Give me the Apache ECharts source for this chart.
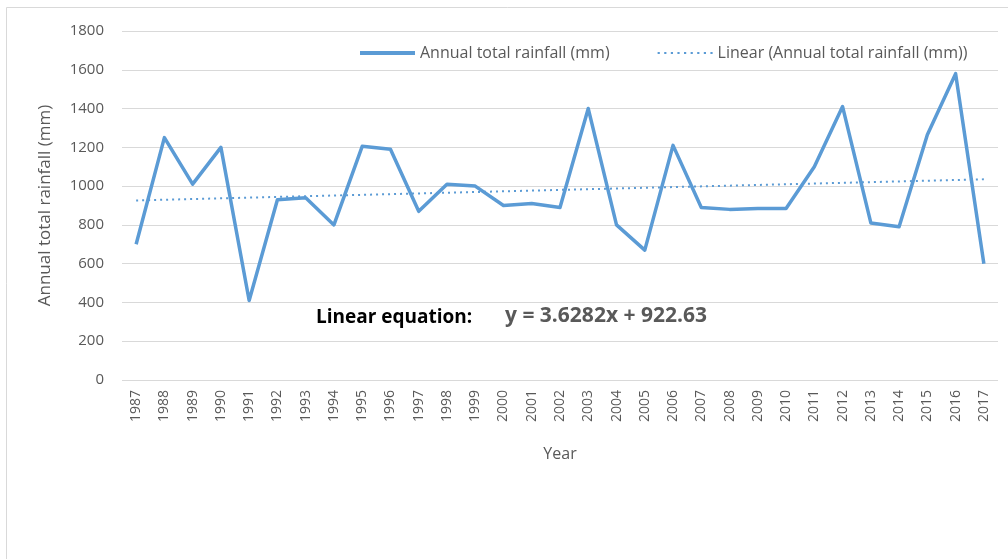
<!DOCTYPE html>
<html>
<head>
<meta charset="utf-8">
<title>Annual total rainfall</title>
<script src="https://cdn.jsdelivr.net/npm/echarts@6/dist/echarts.min.js"></script>
<style>
body {
  margin: 0;
  background: #fff;
}
#chart {
  width: 1008px;
  height: 559px;
}
</style>
</head>
<body>
<div id="chart"></div>
<script>
// years on the x axis
const years = ['1987', '1988', '1989', '1990', '1991', '1992', '1993', '1994', '1995', '1996',
  '1997', '1998', '1999', '2000', '2001', '2002', '2003', '2004', '2005', '2006',
  '2007', '2008', '2009', '2010', '2011', '2012', '2013', '2014', '2015', '2016', '2017']

// annual total rainfall (mm)
const rainfall = [700, 1250, 1010, 1200, 410, 930, 940, 800, 1205, 1190,
  870, 1010, 1000, 900, 910, 890, 1400, 800, 670, 1210,
  890, 880, 885, 885, 1100, 1410, 810, 790, 1265, 1580, 600]

// linear trend line, ends only (drawn straight between them)
const trend = [926, null, null, null, null, null, null, null, null, null,
  null, null, null, null, null, null, null, null, null, null,
  null, null, null, null, null, null, null, null, null, null, 1035]

const equationLabel = 'Linear equation:'
const equationText = 'y = 3.6282x + 922.63'

const font = '"Open Sans", Lato, sans-serif'
const chart = echarts.init(document.getElementById('chart'))

const option = {
  animation: false,
  backgroundColor: '#fff',
  grid: {
    left: 122,
    right: 10,
    top: 31,
    bottom: 179
  },
  legend: {
    top: 40,
    left: 355,
    itemWidth: 55,
    itemHeight: 14,
    itemGap: 48,
    textStyle: { fontFamily: font, fontSize: 16, color: '#595959' },
    data: [
      { name: 'Annual total rainfall (mm)', icon: 'path://M0,5L55,5L55,9L0,9Z' },
      { name: 'Linear (Annual total rainfall (mm))', icon: 'path://M0,6h2v2h-2zM6,6h2v2h-2zM12,6h2v2h-2zM18,6h2v2h-2zM24,6h2v2h-2zM30,6h2v2h-2zM36,6h2v2h-2zM42,6h2v2h-2zM48,6h2v2h-2z' }
    ]
  },
  xAxis: {
    type: 'category',
    data: years,
    name: 'Year',
    nameLocation: 'middle',
    nameGap: 66,
    nameTextStyle: { fontFamily: font, fontSize: 16, color: '#595959' },
    axisLine: { show: false },
    axisTick: { show: false },
    axisLabel: {
      rotate: 90,
      interval: 0,
      margin: 10,
      fontFamily: font,
      fontSize: 14,
      color: '#595959'
    }
  },
  yAxis: {
    type: 'value',
    min: 0,
    max: 1800,
    interval: 200,
    name: 'Annual total rainfall (mm)',
    nameLocation: 'middle',
    nameGap: 68,
    nameTextStyle: { fontFamily: font, fontSize: 17, color: '#595959' },
    axisLabel: {
      fontFamily: font,
      fontSize: 15,
      color: '#595959',
      margin: 18,
      formatter: v => String(v)
    },
    splitLine: { lineStyle: { color: '#d9d9d9', width: 1 } }
  },
  series: [
    {
      name: 'Annual total rainfall (mm)',
      type: 'line',
      data: rainfall,
      symbol: 'none',
      lineStyle: { color: '#5b9bd5', width: 3.5, join: 'round' },
      itemStyle: { color: '#5b9bd5' }
    },
    {
      name: 'Linear (Annual total rainfall (mm))',
      type: 'line',
      data: trend,
      connectNulls: true,
      symbol: 'none',
      lineStyle: { color: '#5b9bd5', width: 2, type: [2, 4] },
      itemStyle: { color: '#5b9bd5' }
    }
  ],
  graphic: [
    {
      type: 'rect',
      shape: { x: 6.5, y: 7.5, width: 1100, height: 600 },
      style: { fill: 'none', stroke: '#d9d9d9', lineWidth: 1 },
      silent: true
    },
    {
      type: 'text',
      left: 316,
      top: 308,
      style: { text: equationLabel, font: 'bold 19px ' + font, fill: '#000' }
    },
    {
      type: 'text',
      left: 505,
      top: 306,
      style: { text: equationText, font: 'bold 21px ' + font, fill: '#595959' }
    }
  ]
}

chart.setOption(option)
</script>
</body>
</html>
